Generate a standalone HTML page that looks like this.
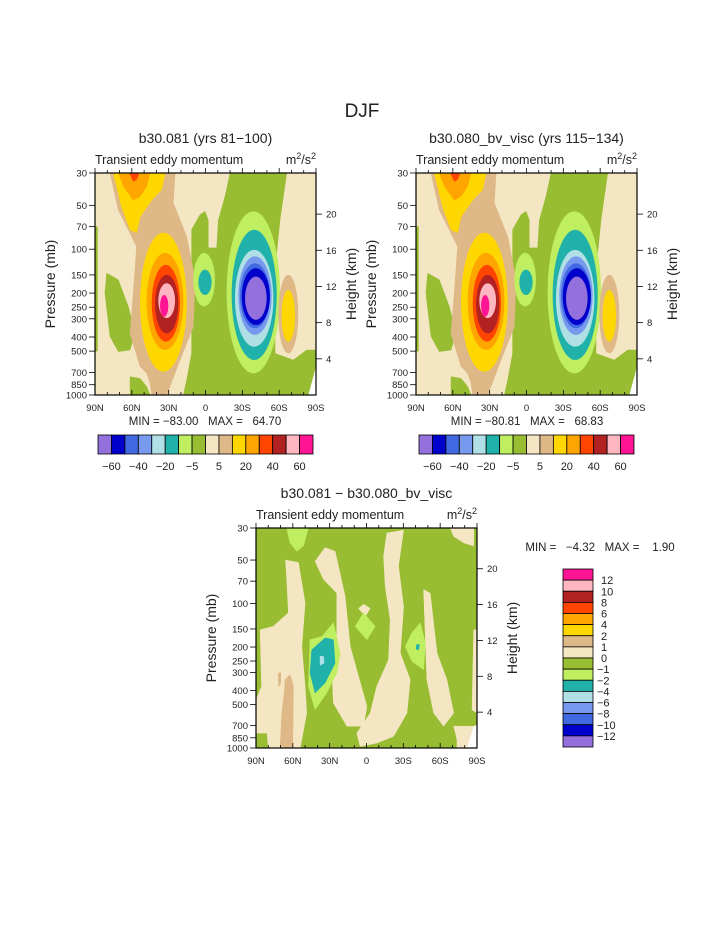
<!DOCTYPE html>
<html><head><meta charset="utf-8"><style>
body{margin:0;background:#fff}
svg{display:block;font-family:"Liberation Sans",sans-serif}
</style></head><body>
<svg id="s" width="723" height="935" viewBox="0 0 723 935">
<rect width="723" height="935" fill="#fff"/>
<text x="362" y="117" font-size="19" text-anchor="middle" fill="#222">DJF</text>
</svg>
<script>
const levelColors=["#9370DB","#0000CD","#4169E1","#7799EE","#B0E0E6","#20B2AA","#BFEF60","#98BD32","#F5E6C3","#DEB887","#FFD700","#FFA500","#FF4500","#B22222","#FFB6C1","#FF1493"];
const topBarLabels=["−60","−40","−20","−5","5","20","40","60"];
const diffBarLabels=["12","10","8","6","4","2","1","0","−1","−2","−4","−6","−8","−10","−12"];
const pTicks=[30,50,70,100,150,200,250,300,400,500,700,850,1000];
const kmTicks=[4,8,12,16,20];
const latTicks=[90,60,30,0,-30,-60,-90];
const latLabels=["90N","60N","30N","0","30S","60S","90S"];
// top-panel polygons: level index, lat list, pressure list
const topPolys=[
{lev:7,lat:[-20,-66.1,-60.7,-56.6,-56.6,-71.5,-82.4,-90,-90,-83.8,18,15.3,11.3,11.3,4.5,0.4,-2.3,-2.3,-9.1,-10.5,-15.9],p:[30,30,63,138,518,575,491,491,639,1000,1000,790,518,73.5,58,55,63,98,98,63,43.5]},
{lev:7,lat:[80.5,71,62.9,57.4,61.5,71,77.8,81.9],p:[146,162,247,378,491,504,397,200]},
{lev:7,lat:[90,88,88,90],p:[70,70,500,500]},
{lev:7,lat:[61.5,53.3,47.9,45.2,61.5],p:[749,769,876,1000,1000]},
{lev:9,lat:[77.8,24.8,26.2,15.3,8.5,9.9,20.8,28.9,31.6,43.8,45.2,47.9,53.3,61.5,58.8,56.1,64.2,71],p:[30,30,48,82,162,340,575,876,1000,1000,831,710,639,378,200,96,70,54]},
{lev:10,lat:[75.1,33,35.7,43.8,53.3,56.1,61.5,68.3],p:[30,30,39,46,60,77,73.5,51]},
{lev:11,lat:[71,45.2,47.9,53.3,58.8,66.9],p:[30,30,37,43.5,46,37]},
{lev:12,lat:[62,54,56.1,58.8],p:[30,30,33.3,34.2]}
];
// top-panel elliptical contours: level, lat edges, pressure edges
const topEllipses=[
{lev:10,lat0:53.3,lat1:15.3,p0:77,p1:692},
{lev:11,lat0:47.9,lat1:18,p0:106,p1:491},
{lev:12,lat0:43.8,lat1:20.8,p0:128,p1:430},
{lev:13,lat0:41.1,lat1:22.1,p0:150,p1:378},
{lev:14,lat0:38.4,lat1:24.8,p0:171,p1:297},
{lev:15,lat0:37,lat1:30.3,p0:206,p1:290},
{lev:6,lat0:-17.2,lat1:-60.7,p0:55,p1:710},
{lev:5,lat0:-21.3,lat1:-58,p0:73.5,p1:575},
{lev:4,lat0:-24,lat1:-55.3,p0:101,p1:466},
{lev:3,lat0:-26.7,lat1:-53.9,p0:112,p1:387},
{lev:2,lat0:-28.1,lat1:-52.5,p0:125,p1:348},
{lev:1,lat0:-29.5,lat1:-52.5,p0:135,p1:331},
{lev:0,lat0:-32.2,lat1:-49.8,p0:154,p1:305},
{lev:6,lat0:9.9,lat1:-7.7,p0:106,p1:247},
{lev:5,lat0:5.8,lat1:-5,p0:138,p1:206},
{lev:9,lat0:-59.3,lat1:-75.6,p0:150,p1:518},
{lev:10,lat0:-62,lat1:-72.9,p0:190,p1:430}
];
const topMissing={lat:[-90,-90,-83.8],p:[639,1000,1000]};
// difference-panel polygons
const diffPolys=[
{lev:8,lat:[66,55.5,50,52.7,50,48.7,54,80,81,90,90,85.4,86.7,76,63.6,65],p:[50,52,99,198,374,573,1000,1000,788,788,463,374,152,144,116,68]},
{lev:8,lat:[33.7,25.6,17.4,13.3,6.5,-0.3,2.4,16,27,28.3,24.2,24.2,35,41.9],p:[41,43.5,89,198,319,515,707,707,489,272,169,85,68,51]},
{lev:8,lat:[-16.6,-30.2,-26.1,-30.2,-27.5,-35.6,-32.9,-22,-8.4,5.2,7.9,-3,-8.4,-17.9,-19.3,-15.2,-13.9],p:[32.5,31,55,105,220,337,573,831,925,975,788,573,374,245,129,76,47]},
{lev:8,lat:[6.5,2.4,-3,1],p:[108,101,108,123]},
{lev:8,lat:[-46.5,-51.9,-57.4,-65.5,-71,-62.8,-54.7,-49.2,-47.9],p:[80,85,220,337,573,707,573,337,169]},
{lev:8,lat:[-68.2,-87.3,-87.3,-79.1,-71],p:[30,30,40,38,34.3]},
{lev:8,lat:[-87.3,-90,-90,-85.9],p:[152,152,573,543]},
{lev:8,lat:[-71,-90,-90,-73.7,-73.7],p:[707,707,1000,1000,876]},
{lev:9,lat:[66.3,62.3,59.5,60,70.4,69,67],p:[337,311,374,1000,1000,573,416]},
{lev:9,lat:[71.8,69.9,69.9,71.5],p:[303,300,355,378]},
{lev:6,lat:[65,47.3,51.4,56.8,62.3],p:[30,30,40,43.5,38]},
{lev:6,lat:[46,36.4,27,21.5,24.2,32.4,41.9,47.3],p:[178,169,136,220,303,416,543,374]},
{lev:5,lat:[44.6,33.7,27,25.6,33.7,41.9,46],p:[209,173,178,258,355,416,303]},
{lev:4,lat:[37.8,35,34.5,37.8],p:[232,232,258,268]},
{lev:6,lat:[2.4,-7.1,-0.3,9.2],p:[116,144,178,144]},
{lev:6,lat:[-43.8,-47.9,-46.5,-37,-31.5,-37],p:[136,188,287,251,198,160]},
{lev:5,lat:[-40.8,-43.2,-42.5,-40.5],p:[192,192,208,208]}
];
const diffMissing={lat:[-87.3,-90,-90,-81.8],p:[707,690,1000,1000]};

const NS="http://www.w3.org/2000/svg";
const svg=document.getElementById('s');
function mk(tag,attrs,parent){const e=document.createElementNS(NS,tag);for(const k in attrs)e.setAttribute(k,attrs[k]);(parent||svg).appendChild(e);return e;}
function txt(x,y,s,size,anchor,parent){const t=mk('text',{x:x,y:y,'font-size':size,'text-anchor':anchor||'middle',fill:'#222'},parent);t.textContent=s;return t;}

function panel(P,polys,ells,missing,bg,name,title,subY,titleY){
  const g=mk('g',{});
  
  
  const L=Math.log(1000/30);
  const X=lat=>P.x0+(90-lat)/180*P.w;
  const Y=p=>P.y0+P.h*Math.log(p/30)/L;
  const cp=mk('clipPath',{id:name+'-clip'},g);
  mk('rect',{x:P.x0,y:P.y0,width:P.w,height:P.h},cp);
  const area=mk('g',{'clip-path':'url(#'+name+'-clip)'},g);
  
  
  mk('rect',{x:P.x0,y:P.y0,width:P.w,height:P.h,fill:levelColors[bg]},area);
  polys.forEach(d=>{
    const pts=d.lat.map((la,i)=>X(la).toFixed(1)+','+Y(d.p[i]).toFixed(1)).join(' ');
    const e=mk('polygon',{points:pts,fill:levelColors[d.lev],stroke:levelColors[d.lev],'stroke-width':0.5,'stroke-linejoin':'round'},area);
    
    
  });
  ells.forEach(d=>{
    const x0=X(d.lat0),x1=X(d.lat1),y0=Y(d.p0),y1=Y(d.p1);
    const e=mk('ellipse',{cx:(x0+x1)/2,cy:(y0+y1)/2,rx:Math.abs(x1-x0)/2,ry:Math.abs(y1-y0)/2,fill:levelColors[d.lev]},area);
    
    
  });
  const pts=missing.lat.map((la,i)=>X(la)+','+Y(missing.p[i])).join(' ');
  mk('polygon',{points:pts,fill:'#fff'},area);
  mk('rect',{x:P.x0,y:P.y0,width:P.w,height:P.h,fill:'none',stroke:'#000','stroke-width':1.2},g);
  for(let la=90;la>=-90;la-=10){
    const major=la%30===0,len=major?5:3,x=X(la);
    mk('line',{x1:x,x2:x,y1:P.y0,y2:P.y0-len,stroke:'#000','stroke-width':0.8},g);
    mk('line',{x1:x,x2:x,y1:P.y0+P.h,y2:P.y0+P.h-len,stroke:'#000','stroke-width':0.8},g);
  }
  latTicks.forEach((la,i)=>{const t=txt(X(la),P.y0+P.h+16,latLabels[i],9.5,'middle',g);
    });
  pTicks.forEach(p=>{const y=Y(p);
    mk('line',{x1:P.x0-6,x2:P.x0,y1:y,y2:y,stroke:'#000','stroke-width':0.8},g);
    const t=txt(P.x0-8,y+3.5,String(p),9.5,'end',g);
    });
  kmTicks.forEach(z=>{const y=P.y0+P.h-P.h*(z/7)/L;
    mk('line',{x1:P.x0+P.w,x2:P.x0+P.w+6,y1:y,y2:y,stroke:'#000','stroke-width':0.8},g);
    const t=txt(P.x0+P.w+10,y+3.5,String(z),9.5,'start',g);
    });
  const cy=P.y0+P.h/2;
  const yl=txt(0,0,'Pressure (mb)',14,'middle',g);
  yl.setAttribute('transform','translate('+(P.x0-40)+','+cy+') rotate(-90)');
  
  const hl=txt(0,0,'Height (km)',14,'middle',g);
  hl.setAttribute('transform','translate('+(P.x0+P.w+40)+','+cy+') rotate(-90)');
  
  const tt=txt(P.x0+P.w/2,titleY,title,14,'middle',g);
  
  const st=txt(P.x0,subY,'Transient eddy momentum',12.5,'start',g);
  
  const un=mk('text',{x:P.x0+P.w,y:subY,'font-size':12.5,'text-anchor':'end',fill:'#222'},g);
  un.innerHTML='m<tspan dy="-5" font-size="9">2</tspan><tspan dy="5">/s</tspan><tspan dy="-5" font-size="9">2</tspan>';
  
  return {X,Y};
}
const P1={x0:95,y0:173,w:221,h:222},P2={x0:416,y0:173,w:221,h:222},P3={x0:256,y0:528,w:221,h:220};
panel(P1,topPolys,topEllipses,topMissing,8,'left-panel','b30.081 (yrs 81−100)',164,143);
panel(P2,topPolys,topEllipses,topMissing,8,'right-panel','b30.080_bv_visc (yrs 115−134)',164,143);
panel(P3,diffPolys,[],diffMissing,7,'diff-panel','b30.081 − b30.080_bv_visc',519,498);

function hbar(x0,name){
  const g=mk('g',{});
  const w=215/16;
  levelColors.forEach((c,i)=>{const r=mk('rect',{x:x0+i*w,y:435,width:w,height:19,fill:c,stroke:'#000','stroke-width':0.8},g);
    });
  topBarLabels.forEach((s,i)=>{const t=txt(x0+(2*i+1)*w,470,s,11,'middle',g);
    });
}
hbar(98,'left-colorbar');hbar(419,'right-colorbar');
(function(){
  const g=mk('g',{});
  const h=178/16;
  levelColors.slice().reverse().forEach((c,i)=>{const r=mk('rect',{x:563,y:569+i*h,width:30,height:h,fill:c,stroke:'#000','stroke-width':0.8},g);
    });
  diffBarLabels.forEach((s,i)=>{const t=txt(s[0]==='−'?597:601,569+(i+1)*h+4,s,11,'start',g);
    });
})();
[[205,425,'MIN = −83.00   MAX =   64.70','left-minmax'],[527,425,'MIN = −80.81   MAX =   68.83','right-minmax'],[600,551,'MIN =   −4.32   MAX =    1.90','diff-minmax']].forEach(a=>{
  const t=txt(a[0],a[1],a[2].replace(/ /g,'\u00a0'),11.5,'middle');
  });
</script>
</body></html>
